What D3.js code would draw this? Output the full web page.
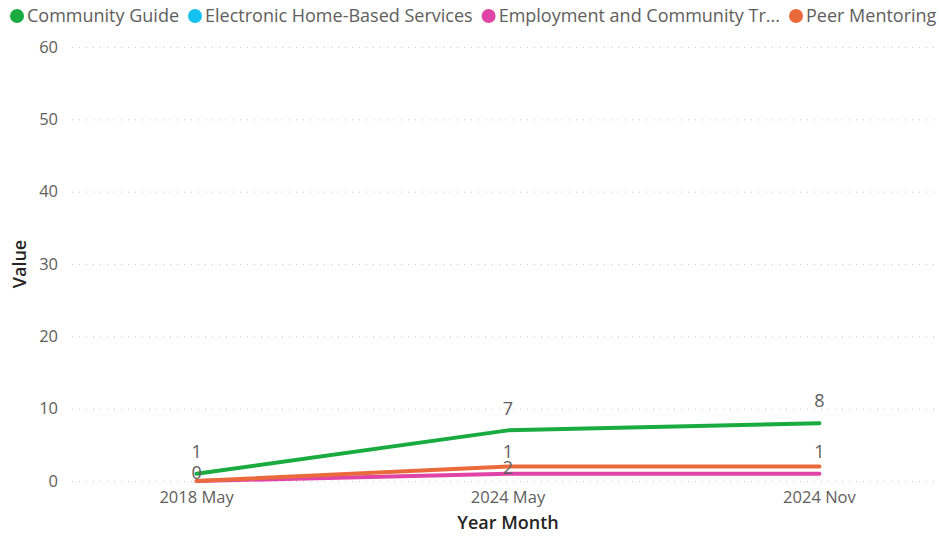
<!DOCTYPE html>
<html>
<head>
<meta charset="utf-8">
<script src="https://cdn.jsdelivr.net/npm/d3@7"></script>
<style>
  html, body { margin: 0; padding: 0; background: #ffffff; }
  svg { display: block; font-family: "Segoe UI", "Open Sans", "Noto Sans", sans-serif; }
</style>
</head>
<body>
<svg id="chart" width="939" height="537"></svg>
<script>
// Months on the x axis
const months = ["2018 May", "2024 May", "2024 Nov"];

// Series names and colours
const seriesNames = ["Community Guide", "Electronic Home-Based Services", "Employment and Community Tr...", "Peer Mentoring"];
const seriesColors = ["#1AAB40", "#15C1F0", "#E044A7", "#EB6A3C"];

// Values per series (null = no data for that month)
const communityGuide = [1, 7, 8];
const electronicHomeBased = [null, null, null];
const employmentCommunity = [0, 1, 1];
const peerMentoring = [0, 2, 2];

// Which data labels are shown for each series (true = shown)
const showCommunityGuide = [true, true, true];
const showElectronic = [false, false, false];
const showEmployment = [false, true, true];
const showPeer = [true, true, false];

// Label placement per series: above the point or centred on it
const labelPlacement = ["above", "above", "above", "center"];

const yTicks = [0, 10, 20, 30, 40, 50, 60];

const seriesValues = [communityGuide, electronicHomeBased, employmentCommunity, peerMentoring];
const seriesShow = [showCommunityGuide, showElectronic, showEmployment, showPeer];

const svg = d3.select("#chart");
const plot = { left: 72, right: 944, top: 47, bottom: 481 };

const x = d3.scalePoint().domain(months).range([plot.left, plot.right]).padding(0.4);
const y = d3.scaleLinear().domain([0, 60]).range([plot.bottom, plot.top]);

// Gridlines and y tick labels
const yAxis = svg.append("g");
yAxis.selectAll("line.grid")
  .data(yTicks)
  .join("line")
  .attr("class", "grid")
  .attr("x1", plot.left).attr("x2", 936)
  .attr("y1", d => y(d) + 0.5).attr("y2", d => y(d) + 0.5)
  .attr("stroke", "#C8C8C8")
  .attr("stroke-width", 1)
  .attr("stroke-dasharray", "1,6");
yAxis.selectAll("text.tick")
  .data(yTicks)
  .join("text")
  .attr("class", "tick")
  .attr("x", 58)
  .attr("y", d => y(d))
  .attr("dy", "0.35em")
  .attr("text-anchor", "end")
  .attr("fill", "#605E5C")
  .attr("font-size", 16.5)
  .text(d => d);

// X tick labels
svg.append("g").selectAll("text")
  .data(months)
  .join("text")
  .attr("x", d => x(d))
  .attr("y", 497)
  .attr("dy", "0.35em")
  .attr("text-anchor", "middle")
  .attr("fill", "#605E5C")
  .attr("font-size", 16.5)
  .text(d => d);

// Axis titles
svg.append("text")
  .attr("x", x(months[1]))
  .attr("y", 523)
  .attr("dy", "0.35em")
  .attr("text-anchor", "middle")
  .attr("fill", "#252423")
  .attr("font-size", 18)
  .attr("font-weight", 600)
  .text("Year Month");

svg.append("text")
  .attr("transform", `translate(20, ${(plot.top + plot.bottom) / 2}) rotate(-90)`)
  .attr("dy", "0.35em")
  .attr("text-anchor", "middle")
  .attr("fill", "#252423")
  .attr("font-size", 18)
  .attr("font-weight", 600)
  .text("Value");

// Lines
const line = d3.line()
  .defined(d => d.v !== null)
  .x(d => x(d.m))
  .y(d => y(d.v));

const lines = svg.append("g");
seriesValues.forEach((vals, i) => {
  const pts = months.map((m, j) => ({ m, v: vals[j] }));
  lines.append("path")
    .datum(pts)
    .attr("fill", "none")
    .attr("stroke", seriesColors[i])
    .attr("stroke-width", 4)
    .attr("stroke-linecap", "round")
    .attr("stroke-linejoin", "round")
    .attr("d", line);
});

// Data labels
const labels = svg.append("g");
seriesValues.forEach((vals, i) => {
  months.forEach((m, j) => {
    if (vals[j] === null || !seriesShow[i][j]) return;
    let cy = labelPlacement[i] === "above" ? y(vals[j]) - 22 : y(vals[j]) + 1;
    cy = Math.min(cy, plot.bottom - 8);
    labels.append("text")
      .attr("x", x(m))
      .attr("y", cy)
      .attr("dy", "0.35em")
      .attr("text-anchor", "middle")
      .attr("fill", "#605E5C")
      .attr("font-size", 18)
      .text(vals[j]);
  });
});

// Legend
const legend = svg.append("g").attr("transform", "translate(0,16)");
let lx = 10;
seriesNames.forEach((name, i) => {
  const g = legend.append("g").attr("transform", `translate(${lx},0)`);
  g.append("circle").attr("cx", 7).attr("cy", 0).attr("r", 7).attr("fill", seriesColors[i]);
  const t = g.append("text")
    .attr("x", 17)
    .attr("y", 0)
    .attr("dy", "0.35em")
    .attr("fill", "#605E5C")
    .attr("font-size", 18)
    .text(name);
  lx += 17 + t.node().getComputedTextLength() + 9;
});
</script>
</body>
</html>
